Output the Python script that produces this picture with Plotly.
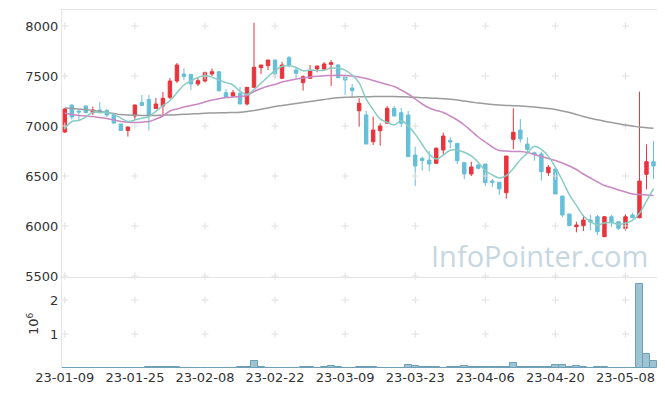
import plotly.graph_objects as go
from plotly.subplots import make_subplots

DATES = [
    "23-01-09", "23-01-10", "23-01-11", "23-01-12", "23-01-13",
    "23-01-16", "23-01-17", "23-01-18", "23-01-19", "23-01-20",
    "23-01-25", "23-01-26", "23-01-27", "23-01-30", "23-01-31",
    "23-02-01", "23-02-02", "23-02-03", "23-02-06", "23-02-07",
    "23-02-08", "23-02-09", "23-02-10", "23-02-13", "23-02-14",
    "23-02-15", "23-02-16", "23-02-17", "23-02-20", "23-02-21",
    "23-02-22", "23-02-23", "23-02-24", "23-02-27", "23-02-28",
    "23-03-02", "23-03-03", "23-03-06", "23-03-07", "23-03-08",
    "23-03-09", "23-03-10", "23-03-13", "23-03-14", "23-03-15",
    "23-03-16", "23-03-17", "23-03-20", "23-03-21", "23-03-22",
    "23-03-23", "23-03-24", "23-03-27", "23-03-28", "23-03-29",
    "23-03-30", "23-03-31", "23-04-03", "23-04-04", "23-04-05",
    "23-04-06", "23-04-07", "23-04-10", "23-04-11", "23-04-12",
    "23-04-13", "23-04-14", "23-04-17", "23-04-18", "23-04-19",
    "23-04-20", "23-04-21", "23-04-24", "23-04-25", "23-04-26",
    "23-04-27", "23-04-28", "23-05-02", "23-05-03", "23-05-04",
    "23-05-08", "23-05-09", "23-05-10", "23-05-11", "23-05-12",
]

OPEN = [6940, 7210, 7150, 7200, 7133, 7160, 7155, 7110, 7020, 6955,
        7100, 7235, 7265, 7175, 7200, 7287, 7450, 7520, 7515, 7420,
        7450, 7520, 7543, 7333, 7300, 7327, 7220, 7387, 7583, 7603,
        7660, 7477, 7683, 7560, 7433, 7477, 7570, 7570, 7617, 7610,
        7493, 7380, 7153, 7110, 6843, 6953, 7027, 7177, 7133, 7110,
        6710, 6677, 6660, 6627, 6760, 6855, 6827, 6633, 6520, 6610,
        6620, 6450, 6437, 6333, 6867, 6960, 6820, 6733, 6720, 6533,
        6570, 6300, 6120, 5993, 6003, 6060, 6093, 5893, 6093, 6043,
        5977, 6110, 6083, 6517, 6643]
HIGH = [7180, 7215, 7160, 7205, 7193, 7240, 7170, 7115, 7020, 6995,
        7215, 7310, 7310, 7280, 7340, 7480, 7630, 7577, 7520, 7480,
        7545, 7575, 7545, 7370, 7360, 7390, 7387, 8033, 7610, 7660,
        7660, 7640, 7700, 7590, 7507, 7610, 7600, 7640, 7660, 7620,
        7500, 7420, 7277, 7150, 7093, 7027, 7200, 7200, 7180, 7150,
        6793, 6693, 6750, 6787, 6933, 6887, 6827, 6633, 6643, 6620,
        6620, 6470, 6437, 6700, 7177, 7070, 6887, 6743, 6743, 6610,
        6570, 6300, 6120, 6043, 6110, 6110, 6110, 6100, 6110, 6043,
        6117, 6133, 7343, 6817, 6850]
LOW = [6930, 7065, 7050, 7125, 7110, 7130, 7090, 7020, 6950, 6895,
       7060, 7200, 6955, 7170, 7100, 7270, 7430, 7460, 7360, 7400,
       7435, 7500, 7345, 7280, 7290, 7220, 7205, 7380, 7520, 7560,
       7480, 7470, 7590, 7480, 7353, 7470, 7537, 7560, 7400, 7477,
       7310, 7287, 6993, 6820, 6810, 6803, 7027, 7100, 6990, 6693,
       6400, 6553, 6550, 6620, 6717, 6777, 6620, 6467, 6500, 6567,
       6400, 6390, 6310, 6273, 6767, 6833, 6733, 6653, 6453, 6500,
       6320, 6090, 6000, 5937, 5950, 5960, 5910, 5893, 5990, 5960,
       5953, 6077, 6077, 6367, 6467]
CLOSE = [7170, 7090, 7140, 7135, 7160, 7140, 7110, 7030, 6955, 6990,
         7210, 7205, 7110, 7220, 7277, 7450, 7610, 7495, 7420, 7453,
         7533, 7543, 7353, 7287, 7333, 7220, 7387, 7587, 7610, 7660,
         7520, 7610, 7610, 7527, 7493, 7550, 7600, 7620, 7633, 7483,
         7460, 7353, 7227, 6820, 6960, 7000, 7177, 7100, 7027, 6693,
         6600, 6655, 6620, 6777, 6900, 6840, 6653, 6520, 6590, 6577,
         6433, 6437, 6370, 6700, 6937, 6870, 6767, 6713, 6543, 6587,
         6320, 6110, 6003, 6010, 6060, 6040, 5943, 6093, 6033, 5977,
         6093, 6083, 6450, 6643, 6600]

VOLUME = [3000, 2500, 3200, 2800, 3000, 2600, 3100, 2900, 3000, 2700,
          2800, 3000, 21000, 19000, 20000, 22000, 18000, 3000, 2600, 3100,
          2900, 2800, 3000, 3200, 2700, 20000, 21000, 220000, 19000, 3000,
          2800, 3100, 2900, 3000, 20000, 19000, 3000, 21000, 50000, 20000,
          2900, 3100, 20000, 19000, 21000, 3000, 2800, 3100, 2900, 80000,
          50000, 20000, 19000, 21000, 3000, 20000, 21000, 50000, 20000, 19000,
          21000, 20000, 19000, 40000, 140000, 20000, 21000, 19000, 20000, 22000,
          80000, 100000, 20000, 50000, 19000, 3000, 20000, 21000, 3000, 2800,
          3100, 2900, 2470000, 410000, 200000]

MA5 = [6975, 7045, 7055, 7090, 7139, 7133, 7137, 7115, 7079, 7045,
       7059, 7078, 7094, 7147, 7204, 7252, 7333, 7410, 7450, 7486,
       7502, 7489, 7460, 7434, 7410, 7347, 7316, 7363, 7427, 7493,
       7553, 7597, 7602, 7585, 7552, 7558, 7556, 7558, 7579, 7577,
       7559, 7510, 7431, 7269, 7164, 7072, 7037, 7011, 7053, 6999,
       6919, 6815, 6719, 6669, 6710, 6758, 6758, 6738, 6701, 6636,
       6555, 6511, 6481, 6503, 6575, 6663, 6729, 6797, 6766, 6696,
       6586, 6455, 6313, 6206, 6101, 6045, 6011, 6029, 6034, 6017,
       6028, 6056, 6127, 6249, 6374]
MA20 = [7130, 7115, 7105, 7100, 7095, 7085, 7075, 7060, 7045, 7038,
        7035, 7038, 7045, 7070, 7100, 7150, 7170, 7190, 7205, 7220,
        7240, 7260, 7272, 7285, 7290, 7295, 7305, 7345, 7375, 7400,
        7415, 7440, 7455, 7470, 7480, 7490, 7498, 7502, 7505, 7507,
        7505, 7500, 7490, 7475, 7455, 7435, 7415, 7395, 7360, 7320,
        7270, 7220, 7180, 7155, 7135, 7100, 7060, 7010, 6950, 6890,
        6840, 6790, 6755, 6750, 6745, 6745, 6735, 6715, 6695, 6675,
        6655, 6630, 6600, 6565, 6520, 6480, 6440, 6405, 6385, 6360,
        6340, 6320, 6315, 6310, 6305]
MA60 = [7180, 7175, 7170, 7165, 7155, 7145, 7135, 7125, 7115, 7110,
        7108, 7106, 7105, 7105, 7108, 7110, 7113, 7117, 7120, 7123,
        7127, 7130, 7132, 7133, 7135, 7138, 7145, 7155, 7168, 7180,
        7195, 7205, 7215, 7225, 7235, 7245, 7255, 7265, 7275, 7282,
        7287, 7290, 7292, 7293, 7294, 7295, 7295, 7295, 7293, 7290,
        7287, 7283, 7280, 7277, 7273, 7268, 7260, 7250, 7240, 7230,
        7222, 7215, 7210, 7206, 7203, 7200, 7196, 7190, 7183, 7175,
        7165, 7150, 7135, 7115, 7095, 7078, 7062, 7048, 7035, 7022,
        7010, 7000, 6990, 6983, 6977]

TICK_LABELS = ["23-01-09", "23-01-25", "23-02-08", "23-02-22", "23-03-09",
               "23-03-23", "23-04-06", "23-04-20", "23-05-08"]
PRICE_TICKS = [5500, 6000, 6500, 7000, 7500, 8000]
VOL_TICKS = [1000000, 2000000]
VOL_TICK_TEXT = ["1", "2"]

RED = "#e8343c"
BLUE = "#66bfd8"
GRID = "#e0e0e0"
AXLINE = "#e4e4e4"
FONT = "DejaVu Sans"

fig = make_subplots(rows=2, cols=1, shared_xaxes=True, vertical_spacing=0,
                    row_heights=[267 / 358, 91 / 358])

# grid crosses at tick intersections (drawn first, below the data)
gx, gy = [], []
for t in TICK_LABELS:
    for p in PRICE_TICKS:
        gx.append(t)
        gy.append(p)
fig.add_trace(go.Scatter(x=gx, y=gy, mode="markers", hoverinfo="skip",
                         marker=dict(symbol="cross-thin", size=5,
                                     line=dict(color=GRID, width=1)),
                         showlegend=False, cliponaxis=False), row=1, col=1)
vx, vy = [], []
for t in TICK_LABELS:
    for v in VOL_TICKS:
        vx.append(t)
        vy.append(v)
fig.add_trace(go.Scatter(x=vx, y=vy, mode="markers", hoverinfo="skip",
                         marker=dict(symbol="cross-thin", size=5,
                                     line=dict(color=GRID, width=1)),
                         showlegend=False), row=2, col=1)

for ma, col in ((MA60, "#9b9b9b"), (MA20, "#c987c3"), (MA5, "#88ccc3")):
    fig.add_trace(go.Scatter(x=DATES, y=ma, mode="lines",
                             line=dict(color=col, width=1.5, shape="spline"),
                             showlegend=False), row=1, col=1)

fig.add_trace(go.Candlestick(
    x=DATES, open=OPEN, high=HIGH, low=LOW, close=CLOSE,
    increasing=dict(line=dict(color=RED, width=1), fillcolor=RED),
    decreasing=dict(line=dict(color=BLUE, width=1), fillcolor=BLUE),
    whiskerwidth=0, showlegend=False), row=1, col=1)

fig.add_trace(go.Bar(x=DATES, y=VOLUME,
                     marker=dict(color="#9dc4d3", line=dict(color="#6d9fb6", width=1)),
                     showlegend=False), row=2, col=1)

fig.update_layout(
    width=657, height=388,
    margin=dict(l=54, r=8, t=2, b=28),
    paper_bgcolor="white", plot_bgcolor="white",
    bargap=0, boxgap=0.3,
    font=dict(family=FONT, size=13, color="#333"),
    xaxis=dict(type="category", categoryorder="array", categoryarray=DATES,
               range=[-0.4, 84.5], showticklabels=False, automargin=False,
               showgrid=False, showline=True, mirror=True, linecolor=AXLINE,
               rangeslider=dict(visible=False), zeroline=False),
    xaxis2=dict(type="category", categoryorder="array", categoryarray=DATES,
                range=[-0.4, 84.5], tickmode="array", automargin=False,
                tickvals=TICK_LABELS, ticktext=TICK_LABELS, showgrid=False,
                showline=False, zeroline=False, ticks="",
                tickfont=dict(family=FONT, size=13, color="#333")),
    yaxis=dict(range=[5490, 8160], tickvals=PRICE_TICKS, showgrid=False,
               automargin=False,
               showline=True, mirror=True, linecolor=AXLINE, zeroline=False,
               ticks="", tickfont=dict(family=FONT, size=13, color="#333")),
    yaxis2=dict(range=[0, 2680000], tickvals=VOL_TICKS, ticktext=VOL_TICK_TEXT,
                automargin=False,
                showgrid=False, showline=True, mirror=True, linecolor=AXLINE,
                zeroline=False, ticks="",
                tickfont=dict(family=FONT, size=13, color="#333")),
)

fig.add_annotation(text="10<sup>6</sup>", xref="paper", yref="paper",
                   x=-0.049, y=0.125, textangle=-90, showarrow=False,
                   xanchor="center", yanchor="middle",
                   font=dict(family=FONT, size=13, color="#333"))
fig.add_annotation(text="InfoPointer.com", xref="paper", yref="paper",
                   x=0.8017, y=0.313, showarrow=False,
                   xanchor="center", yanchor="middle",
                   font=dict(family="Open Sans", size=29, color="#c6d7e2"))

fig.write_html("out.html")
